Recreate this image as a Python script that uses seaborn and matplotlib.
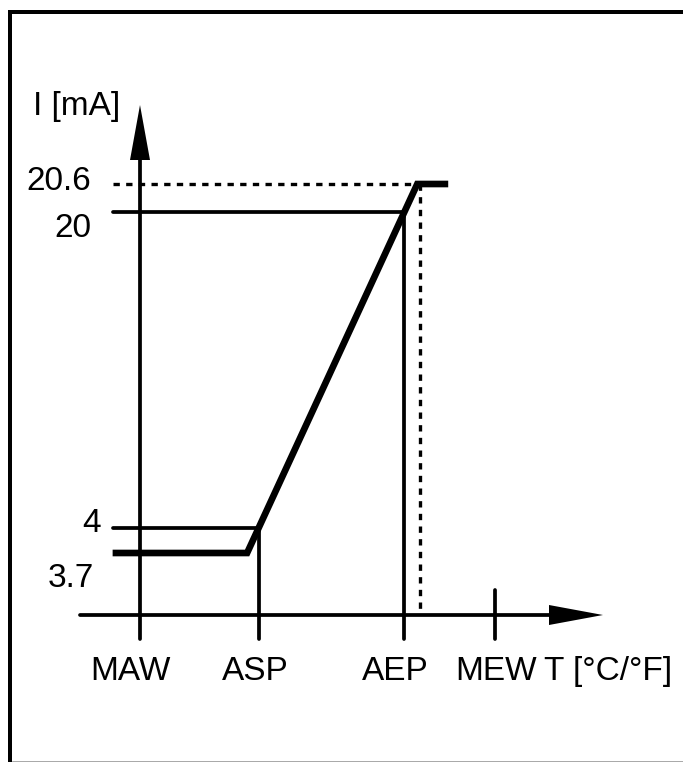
import numpy as np
import matplotlib
matplotlib.use("Agg")
import matplotlib.pyplot as plt
import seaborn as sns
from matplotlib import font_manager
from matplotlib.lines import Line2D

# current levels on the output (mA)
current_levels = [3.7, 4, 20, 20.6]
current_labels = ["3.7", "4", "20", "20.6"]

# temperature marks (relative units, MAW = 0, ASP = 1)
temp_labels = ["MAW", "ASP", "AEP", "MEW"]
temp_marks = [0.0, 1.0, 2.22, 2.98]
t_sat = 2.35  # where output saturates at 20.6 mA

# analog output characteristic
curve_T = [-0.23, 0.90, 2.33, 2.59]
curve_I = [3.7, 3.7, 20.6, 20.6]

W, H = 683, 762
X0_PX, X_UNIT_PX = 140, 119

# schematic vertical scale (not to scale): level -> pixel row from top
y_anchor_I = np.array([-10, 0] + current_levels + [30], dtype=float)
y_anchor_px = np.array([855, 615, 553, 528, 212, 184, 0], dtype=float)


def fwd(y):
    return -np.interp(y, y_anchor_I, y_anchor_px)


def inv(v):
    return np.interp(v, -y_anchor_px, y_anchor_I)


def y_at(row):
    return float(inv(-row))


def x_at(col):
    return (col - X0_PX) / X_UNIT_PX


sns.set_style("white")
names = {f.name for f in font_manager.fontManager.ttflist}
narrow = "Liberation Sans Narrow" in names
plt.rcParams["font.family"] = ["Liberation Sans Narrow" if narrow else "Liberation Sans", "DejaVu Sans"]
plt.rcParams["text.color"] = "black"
FS = 26 if narrow else 24

LW_THIN = 2.7
LW_THICK = 4.8
PT = 0.72  # points per pixel at 100 dpi

fig = plt.figure(figsize=(W / 100, H / 100), dpi=100)
ax = fig.add_axes([0, 0, 1, 1])
ax.set_yscale("function", functions=(fwd, inv))
ax.set_xlim(x_at(0), x_at(W))
ax.set_ylim(y_at(H), y_at(0))
ax.set_axis_off()

x_left = curve_T[0]
y_low = y_at(639)

# reference lines
ax.plot([x_left, t_sat], [current_levels[3]] * 2, color="black", lw=2.4,
        linestyle=(0, (1.9, 1.9)), solid_capstyle="butt")
ax.plot([t_sat, t_sat], [current_levels[3], 0], color="black", lw=2.4,
        linestyle=(0, (1.9, 1.9)))
ax.plot([x_left, temp_marks[2]], [current_levels[2]] * 2, color="black", lw=LW_THIN)
ax.plot([x_left, temp_marks[1]], [current_levels[1]] * 2, color="black", lw=LW_THIN)
ax.plot([temp_marks[1]] * 2, [current_levels[1], y_low], color="black", lw=LW_THIN)
ax.plot([temp_marks[2]] * 2, [current_levels[2], y_low], color="black", lw=LW_THIN)
ax.plot([temp_marks[3]] * 2, [y_at(590), y_low], color="black", lw=LW_THIN)

# axes with arrow heads
ax.plot([0, 0], [y_low, y_at(140)], color="black", lw=LW_THIN)
ax.fill([x_at(130), x_at(150), 0], [y_at(160), y_at(160), y_at(105)],
        color="black", lw=0)
ax.plot([x_at(80), x_at(560)], [0, 0], color="black", lw=LW_THIN)
ax.fill([x_at(549), x_at(549), x_at(603)], [y_at(605), y_at(625), 0],
        color="black", lw=0)

# output curve
sns.lineplot(x=curve_T, y=curve_I, sort=False, color="black", lw=LW_THICK, ax=ax,
             solid_joinstyle="miter", solid_capstyle="butt")

# current labels: offset from line start (px right, px down to baseline)
y_offsets = [(-19, 34), (-12, 4), (-21, 25), (-22, 6)]
for lab, lev, (dx, dy) in zip(current_labels, current_levels, y_offsets):
    ax.annotate(lab, xy=(x_left, lev), xytext=(dx * PT, -dy * PT),
                textcoords="offset points", ha="right", va="baseline",
                fontsize=FS, color="black")

# temperature labels
x_offsets = [-10, -4, -9, 1]
for lab, t, dx in zip(temp_labels, temp_marks, x_offsets):
    ax.annotate(lab, xy=(t, 0), xytext=(dx * PT, -65 * PT),
                textcoords="offset points", ha="center", va="baseline",
                fontsize=FS, color="black")

ax.text(x_at(544), y_at(680), "T [°C/°F]", ha="left", va="baseline",
        fontsize=FS, color="black")
ax.text(x_at(33), y_at(115), "I [mA]", ha="left", va="baseline",
        fontsize=FS, color="black")

# frame
fig.add_artist(Line2D([10 / W, 10 / W], [1 - 10 / H, 0], transform=fig.transFigure,
                      color="black", lw=4 * PT, solid_capstyle="butt"))
fig.add_artist(Line2D([8 / W, 1], [1 - 12 / H, 1 - 12 / H], transform=fig.transFigure,
                      color="black", lw=4 * PT, solid_capstyle="butt"))
fig.add_artist(Line2D([12 / W, 1], [1 - 761 / H, 1 - 761 / H], transform=fig.transFigure,
                      color="#aaaaaa", lw=1 * PT))

fig.savefig("out.png", dpi=100)
